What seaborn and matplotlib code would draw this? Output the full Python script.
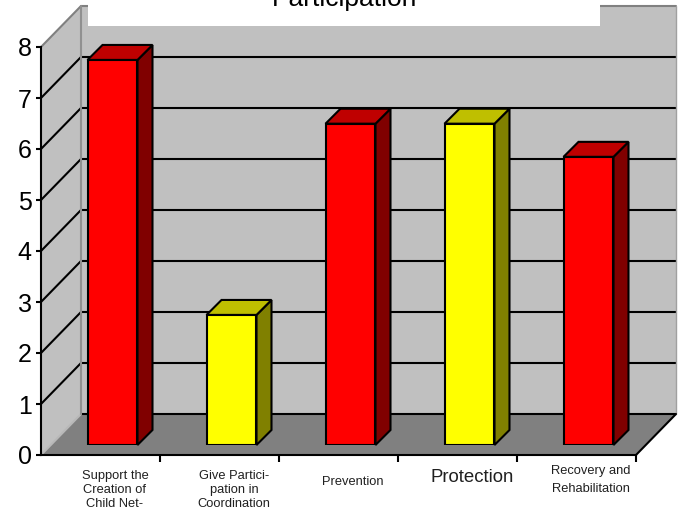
import matplotlib
matplotlib.use("Agg")
import matplotlib.pyplot as plt
import numpy as np
import pandas as pd
import seaborn as sns
from matplotlib import font_manager
from matplotlib.lines import Line2D
from matplotlib.patches import Polygon, Rectangle
from matplotlib.transforms import IdentityTransform, blended_transform_factory

# data
categories = [
    "Support the\nCreation of\nChild Net-",
    "Give Partici-\npation in\nCoordination",
    "Prevention",
    "Protection",
    "Recovery and\nRehabilitation",
]
values = [7.55, 2.55, 6.3, 6.3, 5.65]
bar_colors = ["#FF0000", "#FFFF00", "#FF0000", "#FFFF00", "#FF0000"]
y_ticks = [0, 1, 2, 3, 4, 5, 6, 7, 8]
title = "Participation"

sns.set_style("ticks")
plt.rcParams["font.family"] = ["Liberation Sans", "DejaVu Sans"]

names = {f.name for f in font_manager.fontManager.ttflist}
if "Liberation Sans Narrow" in names:
    lab_family, lab_scale = ["Liberation Sans Narrow", "DejaVu Sans"], 1.0
else:
    lab_family, lab_scale = ["Liberation Sans", "DejaVu Sans"], 0.84

W, H = 678, 517
fig = plt.figure(figsize=(W / 100, H / 100), dpi=100)

# plane of the bar fronts
ax = fig.add_axes([53 / W, 72 / H, 595 / W, 408 / H])
df = pd.DataFrame({"cat": categories, "val": values})
sns.barplot(data=df, x="cat", y="val", hue="cat", palette=bar_colors,
            width=0.42, saturation=1, edgecolor="black", linewidth=1.5,
            legend=False, ax=ax, zorder=3)
bars = list(ax.patches)
ax.set_xlim(-0.5, 4.5)
ax.set_ylim(0, 8)
ax.axis("off")

FRONT = (-12, -10)
BACK = (28, 31)
DEPTH = (15, 15)


def pt(x, y, off=(0, 0)):
    px, py = ax.transData.transform((x, y))
    return (px + off[0], py + off[1])


def poly(points, **kw):
    ax.add_patch(Polygon(points, closed=True, transform=IdentityTransform(),
                         clip_on=False, **kw))


def line(p, q, **kw):
    ax.add_line(Line2D([p[0], q[0]], [p[1], q[1]], transform=IdentityTransform(),
                       clip_on=False, **kw))


x0, x1 = ax.get_xlim()
y0, y1 = ax.get_ylim()

# walls and floor
poly([pt(x0, y0, BACK), pt(x1, y0, BACK), pt(x1, y1, BACK), pt(x0, y1, BACK)],
     facecolor="#C0C0C0", edgecolor="none", zorder=0.2)
poly([pt(x0, y0, FRONT), pt(x0, y0, BACK), pt(x0, y1, BACK), pt(x0, y1, FRONT)],
     facecolor="#C0C0C0", edgecolor="none", zorder=0.2)
poly([pt(x0, y0, FRONT), pt(x1, y0, FRONT), pt(x1, y0, BACK), pt(x0, y0, BACK)],
     facecolor="#808080", edgecolor="none", zorder=0.3)

for t in y_ticks[:-1]:
    line(pt(x0, t, BACK), pt(x1, t, BACK), color="black", lw=1.5, zorder=0.4)
    if t > 0:
        line(pt(x0, t, FRONT), pt(x0, t, BACK), color="black", lw=1.5, zorder=0.4)
line(pt(x0, y0, FRONT), pt(x0, y0, BACK), color="#B8B8B8", lw=1.5, zorder=0.4)
line(pt(x0, y1, FRONT), pt(x0, y1, BACK), color="#808080", lw=1.5, zorder=0.4)
line(pt(x0, y1, BACK), pt(x1, y1, BACK), color="#808080", lw=1.5, zorder=0.4)
line(pt(x0, y0, BACK), pt(x0, y1, BACK), color="#909090", lw=1.5, zorder=0.4)
line(pt(x1, y0, BACK), pt(x1, y1, BACK), color="#A0A0A0", lw=1.0, zorder=0.4)
line(pt(x1, y0, FRONT), pt(x1, y0, BACK), color="black", lw=1.5, zorder=0.4)

# 3d sides and tops of the bars
for bar, c in zip(bars, bar_colors):
    bx0 = bar.get_x()
    bx1 = bx0 + bar.get_width()
    h = bar.get_height()
    rgb = np.array(matplotlib.colors.to_rgb(c))
    poly([pt(bx1, 0), pt(bx1, h), pt(bx1, h, DEPTH), pt(bx1, 0, DEPTH)],
         facecolor=rgb * 0.5, edgecolor="black", lw=1.5, zorder=2.5)
    poly([pt(bx0, h), pt(bx1, h), pt(bx1, h, DEPTH), pt(bx0, h, DEPTH)],
         facecolor=rgb * 0.75, edgecolor="black", lw=1.5, zorder=2.5)

# front axis plane
axf = fig.add_axes([41 / W, 62 / H, 595 / W, 408 / H])
axf.patch.set_visible(False)
axf.set_xlim(x0, x1)
axf.set_ylim(0, 8)
axf.set_yticks(y_ticks)
axf.set_yticklabels([str(t) for t in y_ticks], fontsize=18)
axf.set_xticks(np.arange(0.5, 5, 1))
axf.set_xticklabels([])
sns.despine(ax=axf)
for s in ["left", "bottom"]:
    axf.spines[s].set_color("black")
    axf.spines[s].set_linewidth(1.5)
axf.tick_params(axis="y", direction="out", length=3.6, width=1.5, pad=3,
                color="black", labelcolor="black", left=True)
axf.tick_params(axis="x", direction="out", length=5, width=1.5,
                color="black", bottom=True)

# category labels
lab_y = [490, 490, 482, 478, 480]
lab_size = [11, 11, 11, 16, 11]
lab_space = [1.2, 1.2, 1.2, 1.2, 1.7]
tr = blended_transform_factory(ax.transData, fig.transFigure)
for i, txt in enumerate(categories):
    ax.text(i + 0.02, 1 - lab_y[i] / H, txt, transform=tr, ha="center", va="center",
            fontsize=lab_size[i] * lab_scale, family=lab_family,
            linespacing=lab_space[i], color="#202020", clip_on=False)

# title box
fig.add_artist(Rectangle((88 / W, 1 - 26 / H), 512 / W, 26 / H,
                         transform=fig.transFigure, facecolor="white",
                         edgecolor="none", zorder=2))
fig.text(345 / W, 1 - 6 / H, title, ha="center", va="baseline", fontsize=19,
         color="black", zorder=4)

fig.savefig("out.png", dpi=100)
